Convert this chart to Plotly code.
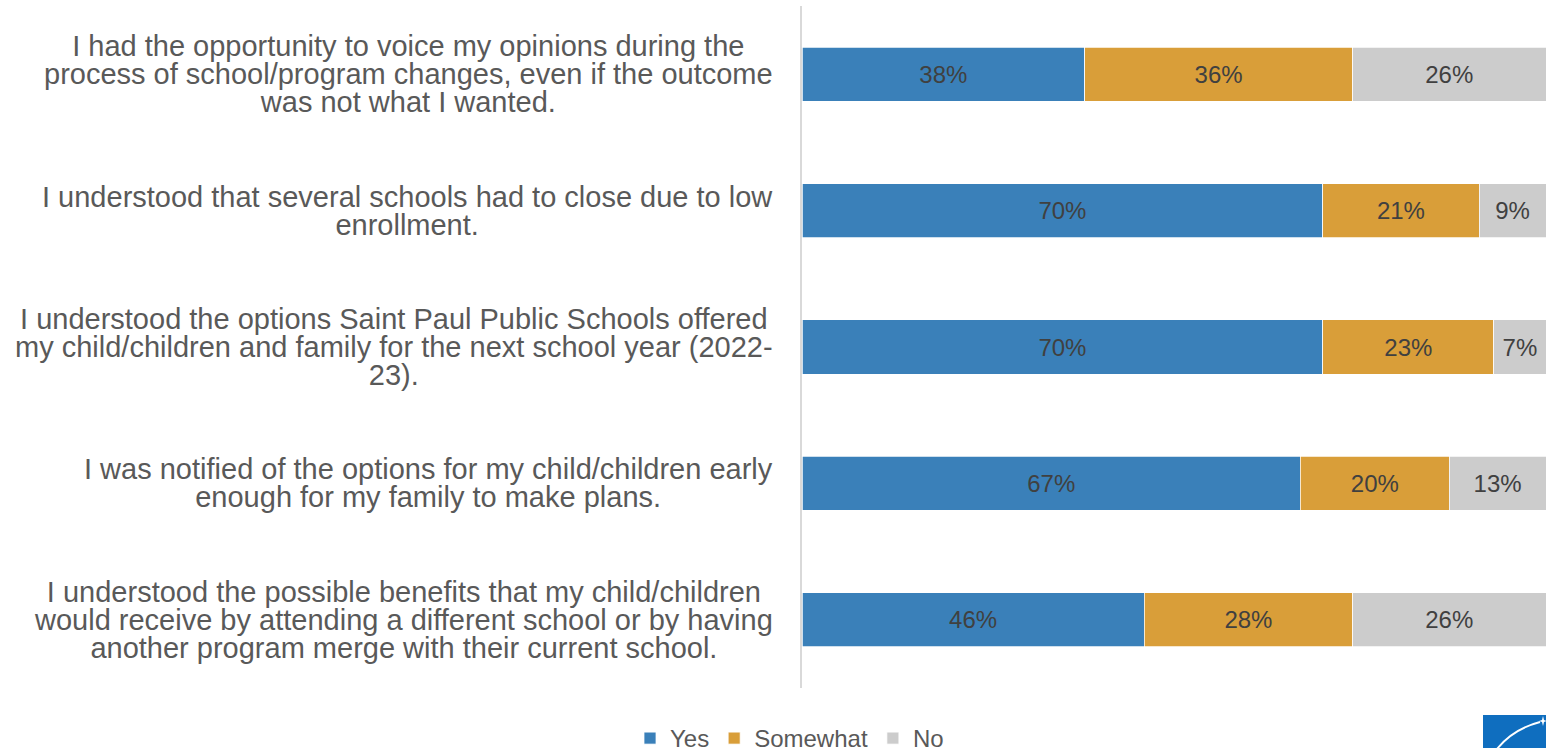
import plotly.graph_objects as go

# Survey statements (top to bottom), with their line breaks
statements = [
    "I had the opportunity to voice my opinions during the\nprocess of school/program changes, even if the outcome\nwas not what I wanted.",
    "I understood that several schools had to close due to low\nenrollment.",
    "I understood the options Saint Paul Public Schools offered\nmy child/children and family for the next school year (2022-\n23).",
    "I was notified of the options for my child/children early\nenough for my family to make plans.",
    "I understood the possible benefits that my child/children\nwould receive by attending a different school or by having\nanother program merge with their current school.",
]

series_names = ["Yes", "Somewhat", "No"]
yes_pct = [38, 70, 70, 67, 46]
somewhat_pct = [36, 21, 23, 20, 28]
no_pct = [26, 9, 7, 13, 26]

colors = ["#3A80B9", "#D99E39", "#CCCCCC"]

W, H = 1546, 748
PL, PR, PT, PB = 802, 1546, 6, 688  # plot area in pixels


def px_x(p):
    return (p - PL) / (PR - PL)


def px_y(p):
    return (PB - p) / (PB - PT)


cats = [s.replace("\n", " ") for s in statements]

fig = go.Figure()
for name, vals, col in zip(series_names, [yes_pct, somewhat_pct, no_pct], colors):
    fig.add_trace(go.Bar(
        name=name,
        orientation="h",
        y=cats,
        x=vals,
        text=[f"{v}%" for v in vals],
        textposition="inside",
        insidetextanchor="middle",
        constraintext="none",
        textfont=dict(family="Liberation Sans, Arial, sans-serif", size=24, color="#404040"),
        marker=dict(color=col, line=dict(color="white", width=0.75)),
        hoverinfo="skip",
    ))

# Statement labels: centred lines, block right-aligned next to the axis
LABEL_PX = 29
LINE_GAP = 28
annotations = []
for cat, stmt in zip(cats, statements):
    lines = stmt.split("\n")
    txt = "<br>".join(f"<span style='font-size:{LABEL_PX}px'>{ln}</span>" for ln in lines)
    annotations.append(dict(
        x=px_x(775), xref="paper", xanchor="right",
        y=cat, yref="y", yanchor="middle",
        text=txt, align="center", showarrow=False,
        font=dict(family="Liberation Sans, Arial, sans-serif", size=LINE_GAP / 1.3, color="#595959"),
    ))

# Corner logo
shapes = [
    dict(type="rect", xref="paper", yref="paper",
         x0=px_x(1483), x1=px_x(1550), y0=px_y(752), y1=px_y(715),
         fillcolor="#0F6EBF", line=dict(width=0), layer="above"),
    dict(type="path", xref="paper", yref="paper",
         path=f"M {px_x(1497)},{px_y(749)} Q {px_x(1513)},{px_y(729)} {px_x(1540)},{px_y(722)}",
         line=dict(color="white", width=2), layer="above"),
    dict(type="path", xref="paper", yref="paper",
         path=(f"M {px_x(1543)},{px_y(716)} L {px_x(1544)},{px_y(720)} L {px_x(1547)},{px_y(721)} "
               f"L {px_x(1544)},{px_y(722)} L {px_x(1543)},{px_y(726)} L {px_x(1542)},{px_y(722)} "
               f"L {px_x(1539)},{px_y(721)} L {px_x(1542)},{px_y(720)} Z"),
         fillcolor="white", line=dict(width=0), layer="above"),
]

fig.update_layout(
    width=W, height=H,
    margin=dict(l=PL, r=W - PR, t=PT, b=H - PB),
    barmode="stack",
    bargap=0.604,
    plot_bgcolor="white",
    paper_bgcolor="white",
    font=dict(family="Liberation Sans, Arial, sans-serif", color="#595959"),
    xaxis=dict(range=[0, 100], visible=False, fixedrange=True),
    yaxis=dict(autorange="reversed", showticklabels=False, ticks="",
               showline=True, linecolor="#D9D9D9", linewidth=2,
               showgrid=False, zeroline=False, fixedrange=True),
    legend=dict(
        orientation="h", xref="container", yref="container",
        x=630 / W, xanchor="left", y=(H - 716) / H, yanchor="top",
        font=dict(size=24, color="#595959"),
        traceorder="normal", itemclick=False, itemdoubleclick=False,
    ),
    annotations=annotations,
    shapes=shapes,
    showlegend=True,
)

fig.write_html("out.html", config={"displayModeBar": False})
